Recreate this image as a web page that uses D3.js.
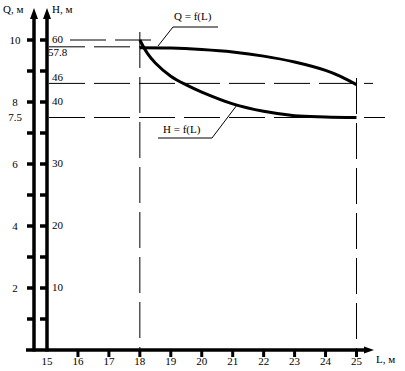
<!DOCTYPE html>
<html>
<head>
<meta charset="utf-8">
<script src="https://cdn.jsdelivr.net/npm/d3@7"></script>
<style>
  body { margin: 0; background: #fff; }
  text { font-family: "Liberation Serif", "Times New Roman", serif; font-size: 11px; fill: #000; }
</style>
</head>
<body>
<svg id="chart" width="405" height="371"></svg>
<script>
// L axis
const lTicks = [15, 16, 17, 18, 19, 20, 21, 22, 23, 24, 25];

// Q axis (left), ticks every 1, labels every 2
const qTicks = [1, 2, 3, 4, 5, 6, 7, 8, 9, 10];
const qLabels = [2, 4, 6, 8, 10];

// H axis (right of Q), labels as printed on the drawing
const hTicks = [5, 10, 15, 20, 25, 30, 35, 40, 50, 60];
const hLabels = [10, 20, 30, 40, 60];
const hBreaks = [0, 10, 20, 30, 40, 60];

// Q = f(L)
const qCurveL = [18, 19, 20, 21, 22, 23, 24, 24.5, 25];
const qCurveV = [9.75, 9.74, 9.69, 9.61, 9.48, 9.29, 9.02, 8.82, 8.56];

// H = f(L)
const hCurveL = [18, 18.25, 18.5, 19, 19.5, 20, 21, 22, 23, 24, 25];
const hCurveV = [60, 55.6, 52.6, 48.3, 45.5, 43.2, 39.7, 38.5, 37.8, 37.6, 37.5];

// marked levels
const hMarks = [60, 57.8, 46];
const qMarks = [7.5];
const lMarks = [18, 25];

const svg = d3.select('#chart');

const x = d3.scaleLinear().domain([15, 25]).range([47, 356.5]);
const yQ = d3.scaleLinear().domain([0, 10]).range([350, 40]);
// the H axis is not uniform on the drawing, so map it piece by piece
const yH = d3.scaleLinear().domain(hBreaks).range(hBreaks.map((d, i) => yQ(i * 2)));

const qAxisX = 34, hAxisX = 47, baseY = 350;

// dashed guide lines
const dash = '36,9';
svg.append('line').attr('x1', 70).attr('x2', 152).attr('y1', yH(60)).attr('y2', yH(60))
  .attr('stroke', '#000').attr('stroke-dasharray', dash);
svg.append('line').attr('x1', 49).attr('x2', x(18) + 2).attr('y1', yH(57.8)).attr('y2', yH(57.8))
  .attr('stroke', '#000').attr('stroke-dasharray', dash);
svg.append('line').attr('x1', 49).attr('x2', 373).attr('y1', yH(46)).attr('y2', yH(46))
  .attr('stroke', '#000').attr('stroke-dasharray', dash);
svg.append('line').attr('x1', 49).attr('x2', 385).attr('y1', yQ(qMarks[0])).attr('y2', yQ(qMarks[0]))
  .attr('stroke', '#000').attr('stroke-dasharray', dash);

svg.append('line').attr('x1', x(lMarks[0])).attr('x2', x(lMarks[0])).attr('y1', 32).attr('y2', baseY)
  .attr('stroke', '#000').attr('stroke-dasharray', dash);
svg.append('line').attr('x1', x(lMarks[1])).attr('x2', x(lMarks[1])).attr('y1', 78).attr('y2', baseY)
  .attr('stroke', '#000').attr('stroke-dasharray', dash);

// curves
const qLine = d3.line().x(d => x(d[0])).y(d => yQ(d[1])).curve(d3.curveCatmullRom);
const hLine = d3.line().x(d => x(d[0])).y(d => yH(d[1])).curve(d3.curveCatmullRom);

svg.append('path').datum(d3.zip(qCurveL, qCurveV)).attr('d', qLine)
  .attr('fill', 'none').attr('stroke', '#000').attr('stroke-width', 3);
svg.append('path').datum(d3.zip(hCurveL, hCurveV)).attr('d', hLine)
  .attr('fill', 'none').attr('stroke', '#000').attr('stroke-width', 3);

// axes
function vAxis(ax) {
  svg.append('line').attr('x1', ax).attr('x2', ax).attr('y1', 17).attr('y2', baseY + 1.5)
    .attr('stroke', '#000').attr('stroke-width', 3.5);
  svg.append('path').attr('d', `M${ax},8 L${ax - 4},19 L${ax + 4},19 Z`).attr('fill', '#000');
}
vAxis(qAxisX);
vAxis(hAxisX);

svg.append('line').attr('x1', 26).attr('x2', 366).attr('y1', baseY).attr('y2', baseY)
  .attr('stroke', '#000').attr('stroke-width', 3.5);
svg.append('path').attr('d', `M374,${baseY} L364,${baseY - 3.5} L364,${baseY + 3.5} Z`).attr('fill', '#000');

// Q ticks and labels
svg.selectAll('.qtick').data(qTicks).join('line')
  .attr('x1', qAxisX - 7).attr('x2', qAxisX).attr('y1', d => yQ(d)).attr('y2', d => yQ(d))
  .attr('stroke', '#000').attr('stroke-width', 3.5);
svg.selectAll('.qlab').data(qLabels.concat(qMarks)).join('text')
  .attr('x', 15).attr('y', d => yQ(d)).attr('dy', '0.35em').attr('text-anchor', 'middle')
  .text(d => d);

// H ticks and labels
svg.selectAll('.htick').data(hTicks).join('line')
  .attr('x1', hAxisX - 7).attr('x2', hAxisX).attr('y1', d => yH(d)).attr('y2', d => yH(d))
  .attr('stroke', '#000').attr('stroke-width', 3.5);
svg.selectAll('.hlab').data(hLabels).join('text')
  .attr('x', 52).attr('y', d => yH(d)).attr('dy', '0.3em')
  .text(d => d);
svg.append('text').attr('x', 48).attr('y', yH(57.8) + 9).text('57.8');
svg.append('text').attr('x', 52).attr('y', yH(46) - 2).text('46');

// L ticks and labels
svg.selectAll('.ltick').data(lTicks.slice(1)).join('line')
  .attr('x1', d => x(d)).attr('x2', d => x(d)).attr('y1', baseY).attr('y2', baseY + 7)
  .attr('stroke', '#000').attr('stroke-width', 3);
svg.selectAll('.llab').data(lTicks).join('text')
  .attr('x', d => x(d)).attr('y', 365).attr('text-anchor', 'middle')
  .text(d => d);

// axis titles
svg.append('text').attr('x', 3).attr('y', 13).text('Q, м');
svg.append('text').attr('x', 52).attr('y', 13).text('H, м');
svg.append('text').attr('x', 376).attr('y', 363).text('L, м');

// callouts
svg.append('text').attr('x', 174).attr('y', 20).text('Q = f(L)');
svg.append('polyline').attr('points', '158,46 173,27 218,27')
  .attr('fill', 'none').attr('stroke', '#000').attr('stroke-width', 1);
svg.append('text').attr('x', 163).attr('y', 133).text('H = f(L)');
svg.append('polyline').attr('points', '158,138 212,138 237,105')
  .attr('fill', 'none').attr('stroke', '#000').attr('stroke-width', 1);
</script>
</body>
</html>
